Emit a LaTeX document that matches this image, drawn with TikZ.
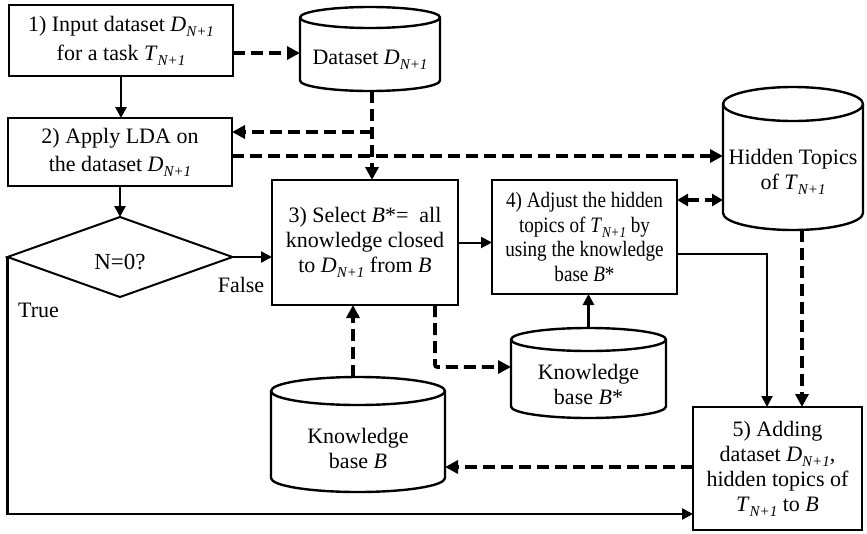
\documentclass[tikz,border=0pt]{standalone}
\usepackage{fontspec}
\setmainfont{Liberation Serif}
\newfontfamily\narrowserif{Liberation Serif}[FakeStretch=0.87]
\usetikzlibrary{arrows.meta,shapes.geometric,calc}

% italic subscript N+1
\newcommand\subidx[1]{\raisebox{-5pt}{\fontsize{15}{15}\selectfont\itshape #1}}
\newcommand\Dn{\textit{D}\subidx{N+1}}
\newcommand\Tn{\textit{T}\subidx{N+1}}

% cylinder outline around a body node: #1 node, #2 x radius, #3 y radius
\newcommand\drawcyl[3]{%
  \draw[cylline] ($(#1.north)+(0pt,#3pt)$) ellipse [x radius=#2pt, y radius=#3pt];
  \draw[cylline] ($(#1.north west)+(0pt,#3pt)$) -- ($(#1.south west)+(0pt,#3pt)$)
    arc [start angle=180, end angle=360, x radius=#2pt, y radius=#3pt]
    -- ($(#1.north east)+(0pt,#3pt)$);
  \coordinate (#1-top) at ($(#1.north)+(0pt,2*#3pt)$);
}

\begin{document}
\begin{tikzpicture}[x=1pt,y=1pt,
  every node/.style={font=\fontsize{22}{25}\selectfont},
  box/.style={draw, line width=2pt, align=center, inner sep=0pt, outer sep=0pt},
  body/.style={align=center, inner sep=0pt, outer sep=0pt},
  cylline/.style={line width=2.4pt, line join=round},
  solidarrow/.style={line width=2.4pt, -{Triangle[length=11pt,width=11pt]}},
  dashline/.style={line width=3.6pt, dash pattern=on 12pt off 6pt},
  dasharrow/.style={dashline, -{Triangle[length=13pt,width=13pt]}},
]
\useasboundingbox (0,0) rectangle (867,-533);
\fill[white] (0,0) rectangle (867,-533);

% process boxes
\node[box, minimum width=224pt, minimum height=71pt, font=\fontsize{22}{29}\selectfont]
  (b1) at (121,-40.5) {1) Input dataset \Dn\\ for a task \Tn};
\node[box, minimum width=224pt, minimum height=68pt, font=\fontsize{22}{28}\selectfont]
  (b2) at (120,-152) {2) Apply LDA on\\ the dataset \Dn};
\node[box, minimum width=186pt, minimum height=125pt]
  (b3) at (365,-242.5) {3) Select \textit{B}*= \ all\\ knowledge closed\\ to \Dn{} from \textit{B}};
\node[box, minimum width=185pt, minimum height=114pt, font=\narrowserif\fontsize{22}{24.5}\selectfont]
  (b4) at (584.5,-237) {4) Adjust the hidden\\ topics of \Tn{} by\\ using the knowledge\\ base \textit{B}*};
\node[box, minimum width=169pt, minimum height=123pt]
  (b5) at (777.5,-468.5) {5) Adding\\ dataset \Dn,\\ hidden topics of\\ \Tn{} to \textit{B}};

% decision
\node[draw, diamond, line width=2pt, minimum width=225pt, minimum height=80pt,
  inner sep=0pt, outer sep=0pt, font=\fontsize{23}{25}\selectfont] (dm) at (120,-257)
  {\raisebox{-5pt}[\height][\depth]{N=0?}};
\node (lfalse) at (241,-285) {False};
\node (ltrue) at (38.5,-310) {True};

% data stores
\node[body, minimum width=140pt, minimum height=63pt] (ds) at (370,-59.5) {Dataset \Dn};
\drawcyl{ds}{70}{10.5}
\node[body, minimum width=140pt, minimum height=109pt] (ht) at (793,-175.5)
  {\raisebox{4pt}[\height][\depth]{\begin{tabular}{@{}c@{}}Hidden Topics\\ of \Tn\end{tabular}}};
\drawcyl{ht}{70}{17}
\node[body, minimum width=155pt, minimum height=67pt] (kbs) at (588.5,-384.5)
  {Knowledge\\ base \textit{B}*};
\drawcyl{kbs}{77.5}{11.5}
\node[body, minimum width=174pt, minimum height=87pt] (kb) at (358,-448.5)
  {Knowledge\\ base \textit{B}};
\drawcyl{kb}{87}{14}

% control flow
\draw[solidarrow, line width=2.8pt] (b1.south) -- (b1.south |- b2.north);
\draw[solidarrow, line width=2.8pt] (b2.south) -- (b2.south |- dm.north);
\draw[solidarrow] (dm.east) -- (dm.east -| b3.west);
\draw[solidarrow] (dm.west) |- ($(b5.west)+(0,-45.5)$);
\draw[solidarrow, line width=2pt] (b3.east) -- (b3.east -| b4.west);
\draw[solidarrow, line width=2pt] ($(b4.east)+(0,-17)$) -| ($(b5.north)+(-10.5,0)$);
\draw[solidarrow, line width=3.6pt] (kbs-top) -- (kbs-top |- b4.south);

% data flow
\draw[dasharrow] ($(b1.east)+(0,-12.5)$) coordinate (a1) -- (a1 -| ds.west);
\draw[dasharrow] ($(ds.south)+(2,0)$) coordinate (a0) -- (a0 |- b3.north);
\coordinate (j1) at ($(a0)+(0,-41)$);
\draw[dasharrow] (j1) -- (j1 -| b2.east);
\draw[dasharrow] ($(b2.east)+(0,-4)$) coordinate (a2) -- (a2 -| ht.west);
\draw[dashline, {Triangle[length=11pt,width=12pt]}-{Triangle[length=11pt,width=12pt]}]
  ($(b4.east)+(0,37)$) coordinate (a3) -- (a3 -| ht.west);
\draw[dasharrow] ($(ht.south)+(9,0)$) coordinate (a4) -- (a4 |- b5.north);
\draw[dasharrow] ($(b5.west)+(0,1.5)$) coordinate (a5) -- (a5 -| kb.east);
\draw[dasharrow] ($(kb-top)+(-5,0)$) coordinate (a6) -- (a6 |- b3.south);
\draw[dasharrow, rounded corners=2pt] ($(b3.south)+(70,0)$) |- ($(kbs.west)+(0,17.5)$);
\end{tikzpicture}
\end{document}
